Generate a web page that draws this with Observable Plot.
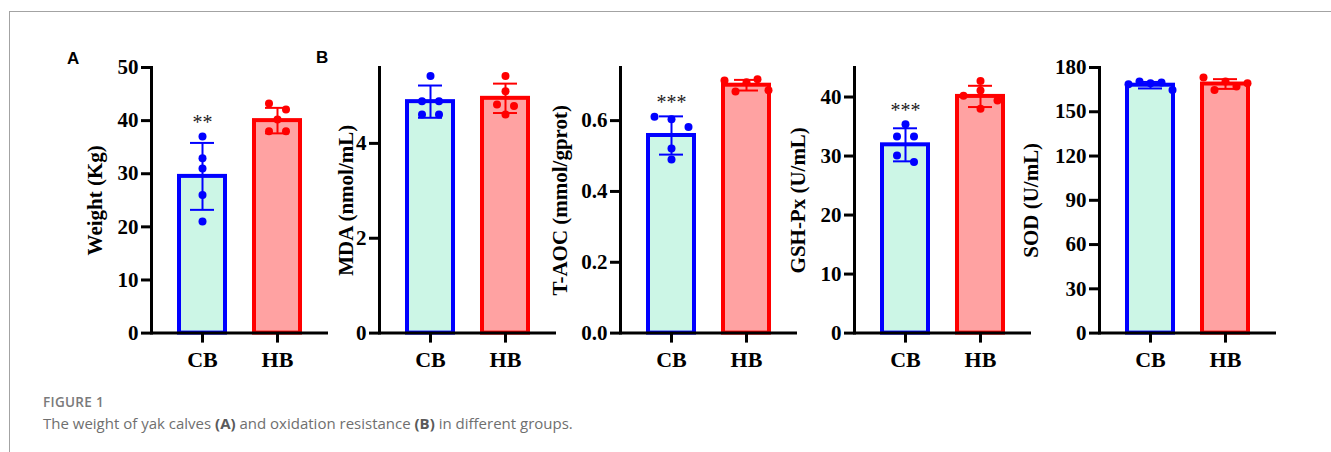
<!DOCTYPE html>
<html>
<head>
<meta charset="utf-8">
<script src="https://cdn.jsdelivr.net/npm/d3@7"></script>
<script src="https://cdn.jsdelivr.net/npm/@observablehq/plot@0.6"></script>
<style>
  html, body { margin: 0; padding: 0; background: #fff; }
  #fig { position: relative; width: 1331px; height: 452px; overflow: hidden; background: #fff; }
  #border { position: absolute; left: 9px; top: 11px; width: 1330px; height: 450px;
            border-top: 1.5px solid #a3a3a3; border-left: 1.5px solid #a3a3a3; }
  .panel { position: absolute; }
  .panel svg { overflow: visible; max-width: none; }
  .tag { position: absolute; font-family: "Liberation Sans", Arial, sans-serif; font-weight: bold;
         font-size: 17px; line-height: 17px; color: #000; }
  #figlabel { position: absolute; left: 43px; top: 393px; font-family: "Open Sans", sans-serif;
              font-weight: 600; font-size: 13.5px; letter-spacing: 0.3px; color: #7a7a7a; line-height: 18px; }
  #caption { position: absolute; left: 43px; top: 413px; font-family: "Open Sans", sans-serif;
             font-size: 15px; color: #6f6f6f; line-height: 20px; white-space: nowrap; }
  #caption b { font-weight: 700; color: #5a5a5a; }
</style>
</head>
<body>
<div id="fig">
  <div id="border"></div>
  <div class="tag" style="left:67px; top:50px;">A</div>
  <div class="tag" style="left:316px; top:49px;">B</div>
  <div id="figlabel">FIGURE 1</div>
  <div id="caption">The weight of yak calves <b>(A)</b> and oxidation resistance <b>(B)</b> in different groups.</div>
</div>
<script>
// ---------- data ----------
const groups = ["CB", "HB"];

const weightMean = [29.5, 40.0];
const weightSD   = [6.3, 2.4];
const weightCB   = [37.0, 32.9, 31.0, 26.0, 21.0];
const weightHB   = [43.2, 42.1, 40.2, 38.0, 38.0];
const weightStars = ["**", ""];
const weightTicks = [0, 10, 20, 30, 40, 50];
const weightMax = 50;

const mdaMean = [4.88, 4.95];
const mdaSD   = [0.34, 0.31];
const mdaCB   = [5.42, 4.89, 4.89, 4.61, 4.61];
const mdaHB   = [5.42, 5.10, 4.82, 4.79, 4.61];
const mdaStars = ["", ""];
const mdaTicks = [0, 2, 4];
const mdaMax = 5.6;

const taocMean = [0.558, 0.700];
const taocSD   = [0.054, 0.015];
const taocCB   = [0.611, 0.604, 0.582, 0.521, 0.490];
const taocHB   = [0.713, 0.682, 0.708, 0.717, 0.686];
const taocStars = ["***", ""];
const taocTicks = [0, 0.2, 0.4, 0.6];
const taocMax = 0.75;

const gshMean = [31.9, 40.1];
const gshSD   = [2.8, 1.8];
const gshCB   = [35.4, 33.3, 33.3, 30.1, 29.0];
const gshHB   = [42.7, 40.2, 41.1, 39.4, 38.0];
const gshStars = ["***", ""];
const gshTicks = [0, 10, 20, 30, 40];
const gshMax = 45;

const sodMean = [168.0, 168.8];
const sodSD   = [2.2, 3.3];
const sodCB   = [168.7, 170.5, 169.4, 169.8, 164.8];
const sodHB   = [173.2, 164.8, 170.5, 167.1, 169.4];
const sodStars = ["", ""];
const sodTicks = [0, 30, 60, 90, 120, 150, 180];
const sodMax = 180;

// ---------- styles ----------
const strokeColor = {CB: "#0000ff", HB: "#ff0000"};
const fillColor = {CB: "#ccf6e6", HB: "#ffa2a2"};
const SERIF = '"Liberation Serif", "Times New Roman", Times, serif';
const ML = 90, MR = 10, MT = 20, MB = 45, FW = 177, FH = 265.6, FRAME_TOP = 66.7;

// Scatter layout: points of similar value are laid side by side, symmetric about the bar centre
function swarm(options) {
  const r = options.r;
  return Plot.initializer(options, (data, facets, channels, scales) => {
    const X = Float64Array.from(channels.x.value, v => scales.x(v));
    const Y = Float64Array.from(channels.y.value, v => scales.y(v));
    for (const I of facets) {
      const byGroup = d3.group(I, i => channels.x.value[i]);
      for (const idx of byGroup.values()) {
        const sorted = [...idx].sort((a, b) => Y[a] - Y[b]);
        const clusters = [];
        let cur = [sorted[0]];
        for (let k = 1; k < sorted.length; k++) {
          if (Y[sorted[k]] - Y[sorted[k - 1]] < 2 * r) cur.push(sorted[k]);
          else { clusters.push(cur); cur = [sorted[k]]; }
        }
        clusters.push(cur);
        for (const c of clusters) {
          const n = c.length;
          if (n < 2) continue;
          const step = Math.min(4.25 * r, 11 * r / (n - 1));
          const ordered = [...c].sort((a, b) => a - b);
          ordered.forEach((i, j) => { X[i] += (j - (n - 1) / 2) * step; });
        }
      }
    }
    return {data, facets, channels: {x: {value: X}, y: {value: Y}}};
  });
}

function panel({axisX, label, labelOffset, mean, sd, cb, hb, stars, ticks, max, tickFormat}) {
  const summary = groups.map((g, i) => ({group: g, mean: mean[i], sd: sd[i]}));
  const pts = [cb, hb];
  const points = groups.flatMap((g, i) => pts[i].map(v => ({group: g, value: v})));
  const marks = groups.map((g, i) => ({group: g, top: Math.max(mean[i] + sd[i], ...pts[i]), stars: stars[i]}));
  const plot = Plot.plot({
    width: ML + FW + MR,
    height: MT + FH + MB,
    marginLeft: ML, marginRight: MR, marginTop: MT, marginBottom: MB,
    style: {fontFamily: SERIF, background: "transparent", overflow: "visible", color: "#000"},
    x: {domain: groups, paddingInner: 0.391, paddingOuter: 0.368, axis: null},
    y: {domain: [0, max], axis: null},
    color: {type: "identity"},
    marks: [
      Plot.barY(summary, {x: "group", y: "mean", fill: d => fillColor[d.group], stroke: d => strokeColor[d.group], strokeWidth: 4}),
      Plot.ruleX(summary, {x: "group", y1: d => d.mean - d.sd, y2: d => d.mean + d.sd, stroke: d => strokeColor[d.group], strokeWidth: 2}),
      Plot.tickY(summary, {x: "group", y: d => d.mean + d.sd, stroke: d => strokeColor[d.group], strokeWidth: 2, insetLeft: 11, insetRight: 11}),
      Plot.tickY(summary, {x: "group", y: d => d.mean - d.sd, stroke: d => strokeColor[d.group], strokeWidth: 2, insetLeft: 11, insetRight: 11}),
      Plot.dot(points, swarm({x: "group", y: "value", r: 4, fill: d => strokeColor[d.group], stroke: null})),
      Plot.text(marks, {x: "group", y: "top", text: "stars", dy: -14, fontSize: 20, fill: "#1a1a1a", fontFamily: SERIF}),
      Plot.ruleY([0], {strokeWidth: 3, stroke: "#000"}),
      Plot.frame({anchor: "left", strokeWidth: 3, stroke: "#000"}),
      Plot.axisY(ticks, {tickSize: 10, tickPadding: 3, strokeWidth: 3, fontSize: 21, fontWeight: "bold",
        tickFormat, label, labelAnchor: "center", labelOffset, labelArrow: "none", fill: "#000"}),
      Plot.axisX({tickSize: 10, tickPadding: 8, strokeWidth: 3, fontSize: 22, fontWeight: "bold", label: null, fill: "#000"})
    ]
  });
  const div = document.createElement("div");
  div.className = "panel";
  div.style.left = (axisX - ML) + "px";
  div.style.top = (FRAME_TOP - MT) + "px";
  div.appendChild(plot);
  document.getElementById("fig").appendChild(div);
}

const intFmt = d => String(d);
panel({axisX: 150.7, label: "Weight (Kg)", labelOffset: 64, mean: weightMean, sd: weightSD, cb: weightCB, hb: weightHB, stars: weightStars, ticks: weightTicks, max: weightMax, tickFormat: intFmt});
panel({axisX: 379.0, label: "MDA (nmol/mL)", labelOffset: 41, mean: mdaMean, sd: mdaSD, cb: mdaCB, hb: mdaHB, stars: mdaStars, ticks: mdaTicks, max: mdaMax, tickFormat: intFmt});
panel({axisX: 620.0, label: "T-AOC (mmol/gprot)", labelOffset: 68, mean: taocMean, sd: taocSD, cb: taocCB, hb: taocHB, stars: taocStars, ticks: taocTicks, max: taocMax, tickFormat: d3.format(".1f")});
panel({axisX: 853.5, label: "GSH-Px (U/mL)", labelOffset: 64, mean: gshMean, sd: gshSD, cb: gshCB, hb: gshHB, stars: gshStars, ticks: gshTicks, max: gshMax, tickFormat: intFmt});
panel({axisX: 1099.0, label: "SOD (U/mL)", labelOffset: 76, mean: sodMean, sd: sodSD, cb: sodCB, hb: sodHB, stars: sodStars, ticks: sodTicks, max: sodMax, tickFormat: intFmt});
</script>
</body>
</html>
